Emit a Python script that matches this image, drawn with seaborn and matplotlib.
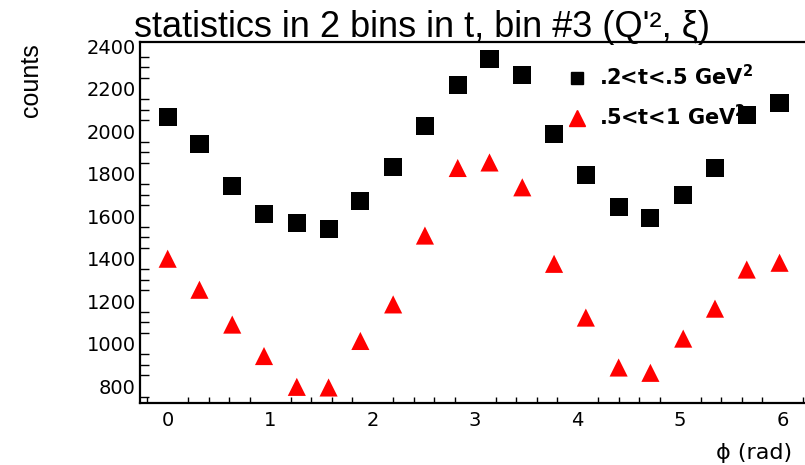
import numpy as np
import pandas as pd
import matplotlib
matplotlib.use("Agg")
import matplotlib.pyplot as plt
import seaborn as sns
from matplotlib.ticker import MultipleLocator
from matplotlib.lines import Line2D

phi = [0.00, 0.31, 0.63, 0.94, 1.26, 1.57, 1.88, 2.20, 2.51, 2.83,
       3.14, 3.46, 3.77, 4.08, 4.40, 4.71, 5.03, 5.34, 5.65, 5.97]
counts_low_t = [2067, 1937, 1740, 1608, 1566, 1539, 1672, 1829, 2024, 2215,
                2337, 2264, 1984, 1794, 1641, 1589, 1699, 1826, 2075, 2131]
counts_high_t = [1399, 1253, 1089, 941, 796, 793, 1012, 1184, 1508, 1826,
                 1852, 1735, 1375, 1122, 887, 862, 1023, 1164, 1348, 1380]
series_labels = [".2<t<.5 GeV$^{\\mathbf{2}}$", ".5<t<1 GeV$^{\\mathbf{2}}$"]

df = pd.DataFrame({
    "phi": phi + phi,
    "counts": counts_low_t + counts_high_t,
    "series": [series_labels[0]] * len(phi) + [series_labels[1]] * len(phi),
})

sns.set_theme(style="white")
plt.rcParams["font.family"] = ["DejaVu Sans", "Liberation Sans"]
plt.rcParams["mathtext.fontset"] = "dejavusans"
plt.rcParams["text.color"] = "black"
plt.rcParams["axes.labelcolor"] = "black"

fig = plt.figure(figsize=(8.05, 4.65), dpi=100)
ax = fig.add_axes([140 / 805, 62 / 465, 699 / 805, 361 / 465])

palette = {series_labels[0]: "black", series_labels[1]: "#ff0000"}
markers = {series_labels[0]: "s", series_labels[1]: "^"}
sns.scatterplot(data=df, x="phi", y="counts", hue="series", style="series",
                palette=palette, markers=markers, s=170, linewidth=0,
                ax=ax, legend=False, zorder=3)

ax.set_xlim(-0.27, 6.55)
ax.set_ylim(720, 2419)

ax.xaxis.set_major_locator(MultipleLocator(1))
ax.xaxis.set_minor_locator(MultipleLocator(0.2))
ax.yaxis.set_major_locator(MultipleLocator(200))
ax.yaxis.set_minor_locator(MultipleLocator(50))
ax.tick_params(axis="y", which="major", direction="in", length=14, width=1.3,
               labelsize=14, pad=3, colors="black")
ax.tick_params(axis="y", which="minor", direction="in", length=6.5, width=1.0,
               left=True, colors="black")
ax.tick_params(axis="x", which="major", direction="in", length=8, width=1.3,
               labelsize=14, pad=6, colors="black")
ax.tick_params(axis="x", which="minor", direction="in", length=4.3, width=1.0,
               bottom=True, colors="black")

for side in ["left", "bottom", "top"]:
    ax.spines[side].set_visible(True)
    ax.spines[side].set_color("black")
    ax.spines[side].set_linewidth(1.6)
ax.spines["right"].set_visible(False)

ax.set_xlabel("")
ax.set_ylabel("")
fig.text(716 / 805, 1 - 453 / 465, "ϕ (rad)", fontsize=16, ha="left",
         va="center", color="black")
fig.text(31 / 805, 1 - 80 / 465, "counts", fontsize=18, rotation=90,
         ha="center", va="center", color="black",
         family=["Liberation Sans", "DejaVu Sans"])
fig.text(134 / 805, 1 - 37 / 465, "statistics in 2 bins in t, bin #3 (Q'², ξ)",
         fontsize=26, ha="left", va="baseline", color="black",
         family=["Liberation Sans", "DejaVu Sans"])

handles = [Line2D([], [], linestyle="none", marker="s", color="black",
                  markersize=9),
           Line2D([], [], linestyle="none", marker="^", color="#ff0000",
                  markersize=11)]
leg = ax.legend(handles, series_labels, loc="upper left",
                bbox_to_anchor=((556 - 140) / 699, (403 - 56) / 361),
                frameon=False, prop={"size": 15, "weight": "bold"},
                handletextpad=0.45, labelspacing=0.68, handlelength=1.2,
                borderaxespad=0, labelcolor="black")
leg.set_zorder(2)

fig.savefig("out.png", dpi=100)
